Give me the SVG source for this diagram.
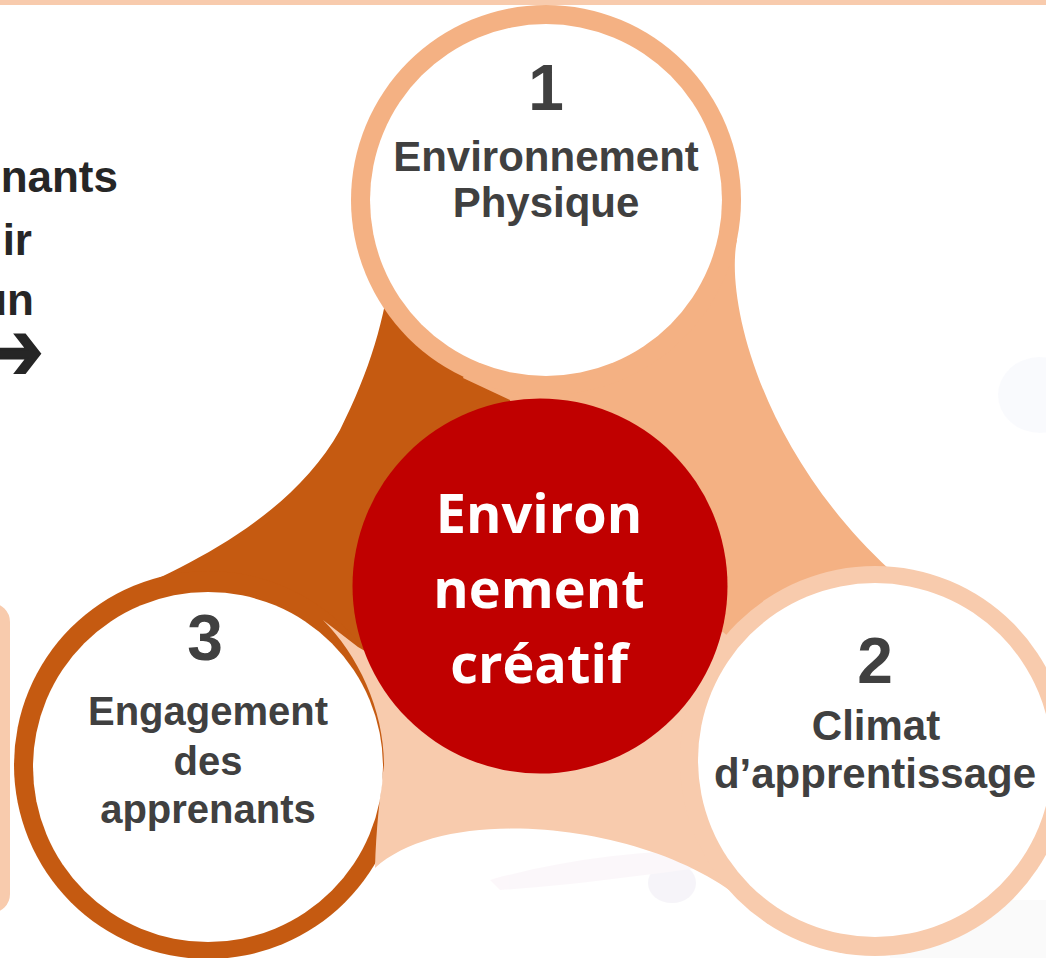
<svg xmlns="http://www.w3.org/2000/svg" width="1046" height="958" viewBox="0 0 1046 958">
<style>
.lbl{font-family:"Liberation Sans",Arial,sans-serif;font-weight:700;fill:#404040;text-anchor:middle}
.num{font-size:64px}
.t42{font-size:42px}
.t40{font-size:40px}
.side{font-family:"Liberation Sans",Arial,sans-serif;font-weight:700;fill:#262626;font-size:44px;text-anchor:end}
.arrow{font-family:"DejaVu Sans",sans-serif;font-weight:700;fill:#262626;font-size:50px;text-anchor:end;stroke:#262626;stroke-width:1.5}
.ctr{font-family:"Open Sans","Liberation Sans",sans-serif;font-weight:700;fill:#FFFFFF;font-size:54px;text-anchor:middle}
.c3{fill:#C55A11}
.c1{fill:#F4B183}
.c2{fill:#F8CBAD}
.w{fill:#FFFFFF}
</style>
<rect x="0" y="0" width="1046" height="958" fill="#FFFFFF"/>
<g id="background" opacity="0.35">
<ellipse cx="1040" cy="395" rx="42" ry="38" fill="#EEF2F9"/>
<ellipse cx="672" cy="883" rx="24" ry="20" fill="#E6E2EE"/>
<path d="M490,880 C560,860 640,850 720,850 L760,860 C680,870 580,885 500,890 Z" fill="#F6E9F2"/>
<rect x="890" y="900" width="156" height="58" fill="#F1F1F1"/>
</g>
<rect x="0" y="0" width="1046" height="5" fill="#F8CBAD"/>
<rect x="-300" y="608" width="305" height="300" rx="14" fill="none" stroke="#F8CBAD" stroke-width="10"/>
<g id="side-text">
<text class="side" x="118" y="192">nants</text>
<text class="side" x="32" y="255">ir</text>
<text class="side" x="34" y="315">un</text>
<text class="arrow" transform="translate(43,379) scale(1.25,1.6)" x="0" y="0">➔</text>
</g>
<g id="connectors">
<path class="c3" d="M110,600 C180,570 290,520 340,430 C370,370 385,320 392,260 L560,300 L560,500 L540,587 L208,765 Z"/>
<circle class="c3" cx="208" cy="765" r="194"/>
<path class="c1" d="M737,240 C725,299 760,450 890,570 L875,760 L540,587 L510,400 L463,378 L546,200 Z"/>
<circle class="c1" cx="546" cy="200" r="195"/>
<path class="c2" d="M748,905 C660,825 450,800 375,868 C376,830 380,795 384,765 C384,710 358,655 323,620 L358,647 L450,700 L723,632 L875,761 Z"/>
<circle class="c2" cx="875" cy="761" r="195"/>
</g>
<g id="node-3">
<circle class="w" cx="208" cy="767" r="175"/>
<text class="lbl num" x="205" y="660">3</text>
<text class="lbl t40" x="208" y="725">Engagement</text>
<text class="lbl t40" x="208" y="775">des</text>
<text class="lbl t40" x="208" y="823">apprenants</text>
</g>
<g id="node-1">
<circle class="w" cx="546" cy="200" r="176"/>
<text class="lbl num" x="546" y="110">1</text>
<text class="lbl t42" x="546" y="171">Environnement</text>
<text class="lbl t42" x="546" y="217">Physique</text>
</g>
<g id="node-2">
<circle class="w" cx="875" cy="760" r="177"/>
<text class="lbl num" x="875" y="683">2</text>
<text class="lbl t42" x="876" y="740">Climat</text>
<text class="lbl t42" x="875" y="788">d’apprentissage</text>
</g>
<g id="node-center">
<circle cx="540" cy="586" r="187.5" fill="#C00000"/>
<text class="ctr" x="539" y="533">Environ</text>
<text class="ctr" x="539" y="608">nement</text>
<text class="ctr" x="539" y="683">créatif</text>
</g>
</svg>
